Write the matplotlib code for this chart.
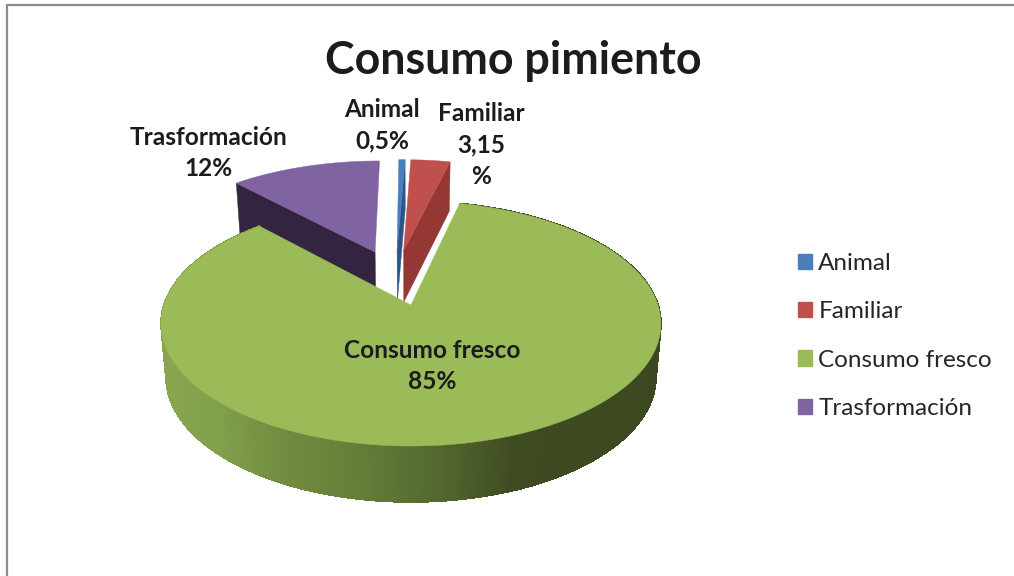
import matplotlib
matplotlib.use('Agg')
import matplotlib.pyplot as plt
from matplotlib.collections import PolyCollection
from matplotlib.colors import to_rgb
from matplotlib.patches import Patch, Polygon
import numpy as np

plt.rcParams['font.family'] = ['Lato', 'DejaVu Sans']

title = "Consumo pimiento"
categories = ["Animal", "Familiar", "Consumo fresco", "Trasformación"]
values = [0.5, 3.15, 85, 12]
value_labels = ["0,5%", "3,15\n%", "85%", "12%"]
colors = ["#4a7ebb", "#c0504d", "#9bbb59", "#8064a2"]
side_colors = ["#2c5587", "#953735", "#9bbb59", "#33243f"]

# pie layout, all in pixels of the figure
green_apex = (411, 305)
radius_x = 247
radius_y = 119.6
persp = 0.152
explode = 0.25
height = 52.8
bottom_shrink = 0.98

# wall shading of the big slice, dark towards the right
grad_x = [160, 220, 280, 350, 430, 510, 662]
grad_c = ["#8ba651", "#80a04a", "#728d40", "#66803a", "#566a30", "#3f4c22", "#3c4821"]
grad_rgb = np.array([to_rgb(c) for c in grad_c])


def project(x, y, bottom=False):
    # perspective projection of pie plane coordinates to the figure
    x = np.asarray(x, dtype=float)
    y = np.asarray(y, dtype=float)
    s = 1 / (1 + persp * y)
    sx = radius_x * x * s
    sy = radius_y * y * s
    if bottom:
        return green_apex[0] + sx * bottom_shrink, green_apex[1] - sy * bottom_shrink + height * s ** 0.64
    return green_apex[0] + sx, green_apex[1] - sy


def direction(angle):
    # angle in degrees, clockwise from 12 o'clock
    return np.sin(np.radians(angle)), np.cos(np.radians(angle))


def xy(sx, sy):
    return np.column_stack([sx, sy])


fig = plt.figure(figsize=(10.14, 5.76), dpi=100)
ax = fig.add_axes([0, 0, 1, 1])
ax.set_xlim(0, 1014)
ax.set_ylim(576, 0)
ax.axis('off')

# outer frame
ax.plot([7, 7, 1014], [576, 5, 5], color='#8c8c8c', linewidth=1.6, solid_joinstyle='miter')

vals = np.array(values)
edges = np.concatenate([[0], np.cumsum(vals)]) * 360 / vals.sum()
mids = (edges[:-1] + edges[1:]) / 2

# every slice moves out along its middle, the big slice apex stays the origin
big = categories.index("Consumo fresco")
gx, gy = direction(mids[big])
centers = []
for m in mids:
    ux, uy = direction(m)
    centers.append((explode * (ux - gx), explode * (uy - gy)))


def arc(i, n=200):
    a = np.linspace(edges[i], edges[i + 1], n)
    ux, uy = direction(a)
    return centers[i][0] + ux, centers[i][1] + uy


# back slices: cut face first, then the top
cut_edge = {0: 1, 1: 1, 3: 0}
for i in [3, 0, 1]:
    ex, ey = direction(edges[i + cut_edge[i]])
    cx, cy = centers[i]
    p1 = project(cx, cy)
    p2 = project(cx + ex, cy + ey)
    p3 = project(cx + ex, cy + ey, bottom=True)
    p4 = project(cx, cy, bottom=True)
    ax.add_patch(Polygon([p1, p2, p3, p4], closed=True, facecolor=side_colors[i],
                         edgecolor=side_colors[i], linewidth=0.3, zorder=2))
    ax_, ay_ = arc(i)
    top = xy(*project(ax_, ay_))
    apex = np.array(project(cx, cy))[None, :]
    ax.add_patch(Polygon(np.vstack([apex, top]), closed=True, facecolor=colors[i],
                         edgecolor=colors[i], linewidth=0.3, zorder=3))

# outer wall of the big slice, as narrow strips so it can carry the gradient
wx, wy = arc(big, n=900)
tx, ty = project(wx, wy)
bx, by = project(wx, wy, bottom=True)
quads = []
quad_colors = []
for k in range(len(wx) - 1):
    quads.append([(tx[k], ty[k]), (tx[k + 1], ty[k + 1]), (bx[k + 1], by[k + 1]), (bx[k], by[k])])
    mx = (bx[k] + bx[k + 1]) / 2
    quad_colors.append([np.interp(mx, grad_x, grad_rgb[:, c]) for c in range(3)])
ax.add_collection(PolyCollection(quads, facecolors=quad_colors, edgecolors=quad_colors,
                                 linewidths=0.6, antialiaseds=False, zorder=4))

big_top = np.vstack([np.array(project(*centers[big]))[None, :], xy(tx, ty)])
ax.add_patch(Polygon(big_top, closed=True, facecolor=colors[big], edgecolor=colors[big],
                     linewidth=0.3, zorder=5))

# texts
text_color = '#1c1c1c'
ax.text(513, 61, title, ha='center', va='center', fontsize=32.2, fontweight='bold', color=text_color)

label_pos = [(382, 125), (481, 145), (432, 366), (209, 153)]
for name, val, pos in zip(categories, value_labels, label_pos):
    ax.text(pos[0], pos[1], name + "\n" + val, ha='center', va='center', fontsize=17.6,
            fontweight='bold', color=text_color, linespacing=1.47, zorder=6)

handles = [Patch(facecolor=c, edgecolor=c, label=n) for c, n in zip(colors, categories)]
ax.legend(handles=handles, loc='center left', bbox_to_anchor=(788 / 1014, 1 - 336 / 576),
          frameon=False, fontsize=17.5, labelcolor='#262626', handlelength=0.6, handleheight=0.6,
          handletextpad=0.25, labelspacing=1.13, borderpad=0, borderaxespad=0.4)

fig.savefig('out.png', dpi=100)
